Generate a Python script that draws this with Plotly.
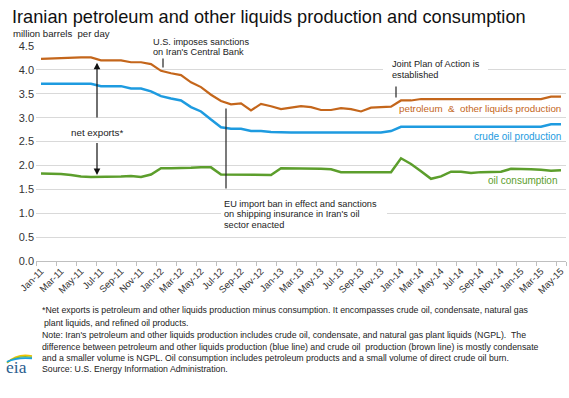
import plotly.graph_objects as go

# ---------------- data ----------------
month_names = ["Jan", "Feb", "Mar", "Apr", "May", "Jun", "Jul", "Aug", "Sep", "Oct", "Nov", "Dec"]
months = [f"{m}-{y:02d}" for y in range(11, 16) for m in month_names][:53]  # Jan-11 .. May-15

petroleum = [4.23, 4.24, 4.25, 4.25, 4.26, 4.26, 4.20, 4.20, 4.20, 4.16,
             4.16, 4.12, 3.98, 3.93, 3.89, 3.74, 3.64, 3.48, 3.35, 3.28,
             3.30, 3.15, 3.29, 3.24, 3.18, 3.21, 3.24, 3.22, 3.16, 3.16,
             3.20, 3.18, 3.13, 3.21, 3.22, 3.23, 3.36, 3.36, 3.39, 3.39,
             3.39, 3.39, 3.39, 3.39, 3.39, 3.39, 3.39, 3.39, 3.39, 3.39,
             3.39, 3.44, 3.44]

crude = [3.71, 3.71, 3.71, 3.71, 3.71, 3.71, 3.66, 3.66, 3.66, 3.61,
         3.61, 3.55, 3.45, 3.40, 3.36, 3.22, 3.13, 2.96, 2.80, 2.77,
         2.77, 2.72, 2.72, 2.70, 2.69, 2.69, 2.69, 2.69, 2.69, 2.69,
         2.69, 2.69, 2.69, 2.69, 2.69, 2.72, 2.81, 2.81, 2.81, 2.81,
         2.81, 2.81, 2.81, 2.81, 2.81, 2.81, 2.81, 2.81, 2.81, 2.81,
         2.81, 2.86, 2.86]

consumption = [1.83, 1.83, 1.82, 1.80, 1.77, 1.76, 1.76, 1.76, 1.77, 1.78,
               1.76, 1.81, 1.94, 1.94, 1.94, 1.95, 1.96, 1.96, 1.81, 1.81,
               1.81, 1.80, 1.80, 1.80, 1.94, 1.94, 1.94, 1.93, 1.93, 1.92,
               1.86, 1.86, 1.86, 1.86, 1.86, 1.86, 2.15, 2.03, 1.88, 1.72,
               1.77, 1.87, 1.87, 1.84, 1.86, 1.86, 1.87, 1.93, 1.93, 1.92,
               1.91, 1.89, 1.90]

y_ticks = [0.0, 0.5, 1.0, 1.5, 2.0, 2.5, 3.0, 3.5, 4.0, 4.5]

# event positions (month index, fractional)
ev_sanctions = 12.2
ev_eu_ban = 18.5
ev_jpa = 35.5
net_export_month = 5.6

# ---------------- styling ----------------
ORANGE = "#C4661B"
BLUE = "#1E9BE0"
GREEN = "#5C9E2C"
GRID = "#D9D9D9"
TXT = "#222222"
FONT = "Liberation Sans, Arial, sans-serif"

L, T, W, H = 36, 46, 530, 215
FIG_W, FIG_H = 569, 398


def px(x):
    return (x - L) / W


def py(y):
    return (T + H - y) / H


idx = list(range(len(months)))

fig = go.Figure()
fig.add_trace(go.Scatter(x=idx, y=petroleum, mode="lines",
                         line=dict(color=ORANGE, width=2.2), hoverinfo="skip"))
fig.add_trace(go.Scatter(x=idx, y=crude, mode="lines",
                         line=dict(color=BLUE, width=2.5), hoverinfo="skip"))
fig.add_trace(go.Scatter(x=idx, y=consumption, mode="lines",
                         line=dict(color=GREEN, width=2.5), hoverinfo="skip"))

shapes = []
# white boxes behind event text (cover gridlines)
for (x0, y0, x1, y1) in [(150, 36, 257, 57), (383, 58, 488, 81), (221, 197, 387, 231)]:
    shapes.append(dict(type="rect", xref="paper", yref="paper", x0=px(x0), x1=px(x1),
                       y0=py(y1), y1=py(y0), fillcolor="white", line=dict(width=0),
                       layer="above"))
# event tick lines
shapes.append(dict(type="line", xref="x", yref="y", x0=ev_sanctions, x1=ev_sanctions,
                   y0=4.05, y1=4.24, line=dict(color="#222", width=1.2), layer="above"))
shapes.append(dict(type="line", xref="x", yref="y", x0=ev_eu_ban, x1=ev_eu_ban,
                   y0=1.52, y1=3.19, line=dict(color="#222", width=1.2), layer="above"))
shapes.append(dict(type="line", xref="x", yref="y", x0=ev_jpa, x1=ev_jpa,
                   y0=3.42, y1=3.65, line=dict(color="#222", width=1.2), layer="above"))

# EIA logo swooshes
for col, dy in [("#F2C300", 0), ("#7DBA3C", 2.0), ("#1BA1E2", 4.0)]:
    x0, y0 = px(7), py(363 - dy * 0.3)
    cx, cy = px(17), py(353 + dy)
    x1, y1 = px(32), py(356 + dy * 0.6)
    shapes.append(dict(type="path", xref="paper", yref="paper",
                       path=f"M {x0},{y0} Q {cx},{cy} {x1},{y1}",
                       line=dict(color=col, width=1.6), layer="above"))

ann = []


def text(x, y, s, size, color=TXT, xanchor="left", yanchor="middle", family=FONT):
    ann.append(dict(xref="paper", yref="paper", x=px(x), y=py(y), text=s,
                    showarrow=False, xanchor=xanchor, yanchor=yanchor,
                    font=dict(size=size, color=color, family=family)))


text(10, 17, "Iranian petroleum and other liquids production and consumption", 18.2, "#111")
text(11, 33, "million barrels  per day", 9.6)

ev_size = 9.2
text(151, 42, "U.S. imposes sanctions", ev_size)
text(151, 52, "on Iran's Central Bank", ev_size)
text(390, 64, "Joint Plan of Action is", ev_size)
text(390, 75, "established", ev_size)
text(222, 203.5, "EU import ban in effect and sanctions", ev_size)
text(222, 214, "on shipping insurance in Iran's oil", ev_size)
text(222, 224.7, "sector enacted", ev_size)

text(97, 132, "net exports*", 9.8, xanchor="center")

text(563, 108, "petroleum  &  other liquids production", 9.8, ORANGE, xanchor="right")
text(563, 136, "crude oil production", 10, BLUE, xanchor="right")
text(559, 180, "oil consumption", 10, GREEN, xanchor="right")

# net exports arrows (tips just inside the orange and green lines)
top_tip = petroleum[5] - 0.11
bot_tip = consumption[5] + 0.04
for tip, tail in [(top_tip, 2.97), (bot_tip, 2.50)]:
    ann.append(dict(xref="x", yref="y", axref="x", ayref="y", x=net_export_month, y=tip,
                    ax=net_export_month, ay=tail, text="", showarrow=True,
                    arrowhead=2, arrowsize=1.1, arrowwidth=1.2, arrowcolor="#111"))

foot = [
    (40, 310, "*Net exports is petroleum and other liquids production minus consumption. It encompasses crude oil, condensate, natural gas"),
    (42, 323, "plant liquids, and refined oil products."),
    (40, 335, "Note: Iran's petroleum and other liquids production includes crude oil, condensate, and natural gas plant liquids (NGPL).  The"),
    (40, 346.5, "difference between petroleum and other liquids production (blue line) and crude oil  production (brown line) is mostly condensate"),
    (40, 357.5, "and a smaller volume is NGPL. Oil consumption includes petroleum products and a small volume of direct crude oil burn."),
    (40, 369, "Source: U.S. Energy Information Administration."),
]
for x, y, s in foot:
    text(x, y, s, 8.75)

text(4, 367, "eia", 17.5, "#2A5D8F", family="Liberation Serif, Times New Roman, serif")

fig.update_layout(
    width=FIG_W, height=FIG_H,
    margin=dict(l=L, r=FIG_W - L - W, t=T, b=FIG_H - T - H, pad=0),
    paper_bgcolor="white", plot_bgcolor="white",
    showlegend=False,
    font=dict(family=FONT, color=TXT),
    shapes=shapes, annotations=ann,
    xaxis=dict(range=[-0.5, len(months) - 0.5], tickmode="array",
               tickvals=idx[::2], ticktext=months[::2], tickangle=-45,
               tickfont=dict(size=9.5, color="#333"), ticks="",
               showgrid=False, zeroline=False, showline=True,
               linecolor="#BFBFBF", linewidth=1,
               minor=dict(tickmode="array",
                          tickvals=[i - 0.5 for i in idx[::2]] + [len(months) - 0.5],
                          ticks="outside", ticklen=4, tickcolor="#BFBFBF",
                          tickwidth=1, showgrid=False)),
    yaxis=dict(range=[0, 4.5], tickmode="array", tickvals=y_ticks,
               ticktext=[f"{v:.1f}" for v in y_ticks],
               tickfont=dict(size=11, color="#333"), ticks="",
               ticklabelstandoff=1,
               showgrid=True, gridcolor=GRID, gridwidth=1, zeroline=False,
               showline=False),
)

fig.write_html("out.html", config={"displayModeBar": False},
               post_script="document.body.style.margin='0';document.body.style.overflow='hidden';")
